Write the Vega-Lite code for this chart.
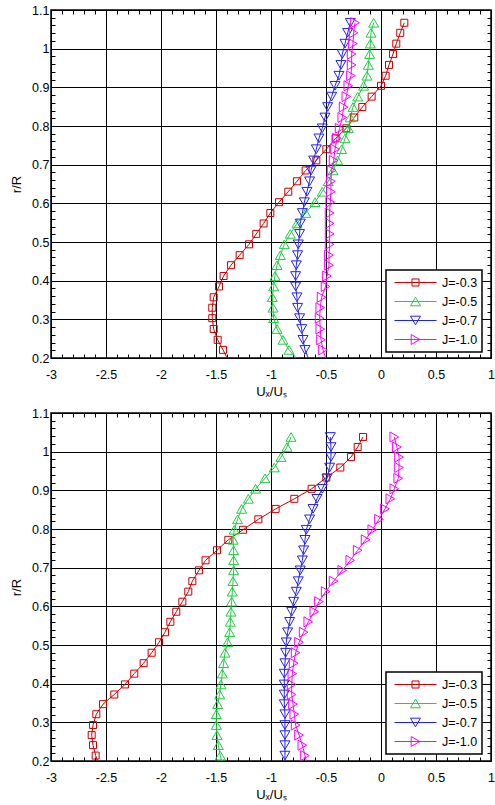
{
  "$schema": "https://vega.github.io/schema/vega-lite/v6.json",
  "background": "white",
  "padding": {"left": 9, "top": 3, "right": 0, "bottom": 2},
  "spacing": 6,
  "config": {
    "font": "Liberation Sans",
    "view": {"stroke": "black", "strokeWidth": 1.5},
    "axis": {
      "domain": false,
      "labelFont": "Liberation Sans",
      "labelFontSize": 12.5,
      "labelColor": "black",
      "titleFont": "Liberation Sans",
      "titleFontSize": 13,
      "titleFontWeight": "normal",
      "titleColor": "black",
      "tickColor": "black",
      "tickSize": -4,
      "tickWidth": 1,
      "gridColor": "black",
      "gridWidth": 1,
      "labelOverlap": false,
      "labelFlush": false,
      "labelBound": false
    },
    "legend": {
      "labelFont": "Liberation Sans",
      "labelFontSize": 12.5,
      "labelColor": "black",
      "symbolSize": 1764,
      "symbolStrokeWidth": 1,
      "symbolOpacity": 1,
      "clipHeight": 17,
      "rowPadding": 2,
      "padding": 4,
      "symbolOffset": 4,
      "labelOffset": 5,
      "strokeColor": "black",
      "strokeWidth": 1.5,
      "fillColor": "white",
      "cornerRadius": 0
    }
  },
  "datasets": {
    "top": [
      {"J":"J=-0.3","u":0.212,"r":1.067},{"J":"J=-0.3","u":0.175,"r":1.041},{"J":"J=-0.3","u":0.139,"r":1.013},{"J":"J=-0.3","u":0.109,"r":0.986},{"J":"J=-0.3","u":0.073,"r":0.958},{"J":"J=-0.3","u":0.042,"r":0.930},{"J":"J=-0.3","u":0.0,"r":0.904},{"J":"J=-0.3","u":-0.085,"r":0.876},{"J":"J=-0.3","u":-0.170,"r":0.849},{"J":"J=-0.3","u":-0.243,"r":0.822},{"J":"J=-0.3","u":-0.315,"r":0.794},{"J":"J=-0.3","u":-0.413,"r":0.768},{"J":"J=-0.3","u":-0.497,"r":0.740},{"J":"J=-0.3","u":-0.588,"r":0.711},{"J":"J=-0.3","u":-0.685,"r":0.685},{"J":"J=-0.3","u":-0.764,"r":0.657},{"J":"J=-0.3","u":-0.843,"r":0.630},{"J":"J=-0.3","u":-0.927,"r":0.603},{"J":"J=-0.3","u":-1.006,"r":0.575},{"J":"J=-0.3","u":-1.067,"r":0.548},{"J":"J=-0.3","u":-1.134,"r":0.521},{"J":"J=-0.3","u":-1.200,"r":0.494},{"J":"J=-0.3","u":-1.285,"r":0.466},{"J":"J=-0.3","u":-1.364,"r":0.440},{"J":"J=-0.3","u":-1.431,"r":0.412},{"J":"J=-0.3","u":-1.473,"r":0.385},{"J":"J=-0.3","u":-1.521,"r":0.357},{"J":"J=-0.3","u":-1.534,"r":0.330},{"J":"J=-0.3","u":-1.534,"r":0.303},{"J":"J=-0.3","u":-1.521,"r":0.275},{"J":"J=-0.3","u":-1.485,"r":0.247},{"J":"J=-0.3","u":-1.436,"r":0.221},{"J":"J=-0.3","u":-1.400,"r":0.2},
      {"J":"J=-0.5","u":-0.067,"r":1.067},{"J":"J=-0.5","u":-0.091,"r":1.041},{"J":"J=-0.5","u":-0.097,"r":1.013},{"J":"J=-0.5","u":-0.103,"r":0.986},{"J":"J=-0.5","u":-0.115,"r":0.958},{"J":"J=-0.5","u":-0.127,"r":0.930},{"J":"J=-0.5","u":-0.158,"r":0.904},{"J":"J=-0.5","u":-0.212,"r":0.876},{"J":"J=-0.5","u":-0.255,"r":0.849},{"J":"J=-0.5","u":-0.279,"r":0.822},{"J":"J=-0.5","u":-0.297,"r":0.794},{"J":"J=-0.5","u":-0.327,"r":0.768},{"J":"J=-0.5","u":-0.358,"r":0.740},{"J":"J=-0.5","u":-0.394,"r":0.711},{"J":"J=-0.5","u":-0.436,"r":0.685},{"J":"J=-0.5","u":-0.479,"r":0.657},{"J":"J=-0.5","u":-0.534,"r":0.630},{"J":"J=-0.5","u":-0.600,"r":0.603},{"J":"J=-0.5","u":-0.685,"r":0.575},{"J":"J=-0.5","u":-0.764,"r":0.548},{"J":"J=-0.5","u":-0.825,"r":0.521},{"J":"J=-0.5","u":-0.879,"r":0.494},{"J":"J=-0.5","u":-0.915,"r":0.466},{"J":"J=-0.5","u":-0.945,"r":0.440},{"J":"J=-0.5","u":-0.964,"r":0.412},{"J":"J=-0.5","u":-0.976,"r":0.385},{"J":"J=-0.5","u":-0.988,"r":0.357},{"J":"J=-0.5","u":-0.982,"r":0.330},{"J":"J=-0.5","u":-0.976,"r":0.303},{"J":"J=-0.5","u":-0.945,"r":0.275},{"J":"J=-0.5","u":-0.891,"r":0.247},{"J":"J=-0.5","u":-0.836,"r":0.221},{"J":"J=-0.5","u":-0.770,"r":0.2},
      {"J":"J=-0.7","u":-0.279,"r":1.067},{"J":"J=-0.7","u":-0.303,"r":1.041},{"J":"J=-0.7","u":-0.327,"r":1.013},{"J":"J=-0.7","u":-0.352,"r":0.986},{"J":"J=-0.7","u":-0.364,"r":0.958},{"J":"J=-0.7","u":-0.382,"r":0.930},{"J":"J=-0.7","u":-0.418,"r":0.904},{"J":"J=-0.7","u":-0.449,"r":0.876},{"J":"J=-0.7","u":-0.485,"r":0.849},{"J":"J=-0.7","u":-0.509,"r":0.822},{"J":"J=-0.7","u":-0.534,"r":0.794},{"J":"J=-0.7","u":-0.564,"r":0.768},{"J":"J=-0.7","u":-0.588,"r":0.740},{"J":"J=-0.7","u":-0.612,"r":0.711},{"J":"J=-0.7","u":-0.636,"r":0.685},{"J":"J=-0.7","u":-0.649,"r":0.657},{"J":"J=-0.7","u":-0.673,"r":0.630},{"J":"J=-0.7","u":-0.697,"r":0.603},{"J":"J=-0.7","u":-0.715,"r":0.575},{"J":"J=-0.7","u":-0.734,"r":0.548},{"J":"J=-0.7","u":-0.740,"r":0.521},{"J":"J=-0.7","u":-0.752,"r":0.494},{"J":"J=-0.7","u":-0.758,"r":0.466},{"J":"J=-0.7","u":-0.770,"r":0.440},{"J":"J=-0.7","u":-0.776,"r":0.412},{"J":"J=-0.7","u":-0.776,"r":0.385},{"J":"J=-0.7","u":-0.764,"r":0.357},{"J":"J=-0.7","u":-0.758,"r":0.330},{"J":"J=-0.7","u":-0.740,"r":0.303},{"J":"J=-0.7","u":-0.721,"r":0.275},{"J":"J=-0.7","u":-0.709,"r":0.247},{"J":"J=-0.7","u":-0.691,"r":0.221},{"J":"J=-0.7","u":-0.661,"r":0.2},
      {"J":"J=-1.0","u":-0.236,"r":1.067},{"J":"J=-1.0","u":-0.249,"r":1.041},{"J":"J=-1.0","u":-0.255,"r":1.013},{"J":"J=-1.0","u":-0.267,"r":0.986},{"J":"J=-1.0","u":-0.267,"r":0.958},{"J":"J=-1.0","u":-0.273,"r":0.930},{"J":"J=-1.0","u":-0.297,"r":0.904},{"J":"J=-1.0","u":-0.315,"r":0.876},{"J":"J=-1.0","u":-0.340,"r":0.849},{"J":"J=-1.0","u":-0.352,"r":0.822},{"J":"J=-1.0","u":-0.376,"r":0.794},{"J":"J=-1.0","u":-0.400,"r":0.768},{"J":"J=-1.0","u":-0.418,"r":0.740},{"J":"J=-1.0","u":-0.431,"r":0.711},{"J":"J=-1.0","u":-0.449,"r":0.685},{"J":"J=-1.0","u":-0.455,"r":0.657},{"J":"J=-1.0","u":-0.455,"r":0.630},{"J":"J=-1.0","u":-0.461,"r":0.603},{"J":"J=-1.0","u":-0.467,"r":0.575},{"J":"J=-1.0","u":-0.467,"r":0.548},{"J":"J=-1.0","u":-0.467,"r":0.521},{"J":"J=-1.0","u":-0.467,"r":0.494},{"J":"J=-1.0","u":-0.473,"r":0.466},{"J":"J=-1.0","u":-0.473,"r":0.440},{"J":"J=-1.0","u":-0.491,"r":0.412},{"J":"J=-1.0","u":-0.504,"r":0.385},{"J":"J=-1.0","u":-0.540,"r":0.357},{"J":"J=-1.0","u":-0.552,"r":0.330},{"J":"J=-1.0","u":-0.558,"r":0.303},{"J":"J=-1.0","u":-0.552,"r":0.275},{"J":"J=-1.0","u":-0.545,"r":0.247},{"J":"J=-1.0","u":-0.527,"r":0.221},{"J":"J=-1.0","u":-0.503,"r":0.2}
    ],
    "bottom": [
      {"J":"J=-0.3","u":-0.164,"r":1.038},{"J":"J=-0.3","u":-0.212,"r":1.012},{"J":"J=-0.3","u":-0.273,"r":0.986},{"J":"J=-0.3","u":-0.370,"r":0.959},{"J":"J=-0.3","u":-0.497,"r":0.933},{"J":"J=-0.3","u":-0.631,"r":0.904},{"J":"J=-0.3","u":-0.788,"r":0.878},{"J":"J=-0.3","u":-0.958,"r":0.852},{"J":"J=-0.3","u":-1.115,"r":0.825},{"J":"J=-0.3","u":-1.255,"r":0.798},{"J":"J=-0.3","u":-1.388,"r":0.772},{"J":"J=-0.3","u":-1.491,"r":0.745},{"J":"J=-0.3","u":-1.595,"r":0.719},{"J":"J=-0.3","u":-1.655,"r":0.693},{"J":"J=-0.3","u":-1.715,"r":0.665},{"J":"J=-0.3","u":-1.752,"r":0.638},{"J":"J=-0.3","u":-1.806,"r":0.612},{"J":"J=-0.3","u":-1.861,"r":0.586},{"J":"J=-0.3","u":-1.915,"r":0.560},{"J":"J=-0.3","u":-1.964,"r":0.533},{"J":"J=-0.3","u":-2.018,"r":0.507},{"J":"J=-0.3","u":-2.085,"r":0.480},{"J":"J=-0.3","u":-2.158,"r":0.453},{"J":"J=-0.3","u":-2.243,"r":0.426},{"J":"J=-0.3","u":-2.327,"r":0.398},{"J":"J=-0.3","u":-2.425,"r":0.372},{"J":"J=-0.3","u":-2.527,"r":0.347},{"J":"J=-0.3","u":-2.588,"r":0.321},{"J":"J=-0.3","u":-2.618,"r":0.293},{"J":"J=-0.3","u":-2.630,"r":0.267},{"J":"J=-0.3","u":-2.618,"r":0.241},{"J":"J=-0.3","u":-2.594,"r":0.214},{"J":"J=-0.3","u":-2.576,"r":0.2},
      {"J":"J=-0.5","u":-0.818,"r":1.038},{"J":"J=-0.5","u":-0.855,"r":1.012},{"J":"J=-0.5","u":-0.909,"r":0.986},{"J":"J=-0.5","u":-0.970,"r":0.959},{"J":"J=-0.5","u":-1.055,"r":0.931},{"J":"J=-0.5","u":-1.140,"r":0.904},{"J":"J=-0.5","u":-1.206,"r":0.878},{"J":"J=-0.5","u":-1.267,"r":0.852},{"J":"J=-0.5","u":-1.304,"r":0.825},{"J":"J=-0.5","u":-1.334,"r":0.798},{"J":"J=-0.5","u":-1.345,"r":0.772},{"J":"J=-0.5","u":-1.340,"r":0.745},{"J":"J=-0.5","u":-1.340,"r":0.719},{"J":"J=-0.5","u":-1.340,"r":0.693},{"J":"J=-0.5","u":-1.345,"r":0.665},{"J":"J=-0.5","u":-1.352,"r":0.638},{"J":"J=-0.5","u":-1.358,"r":0.612},{"J":"J=-0.5","u":-1.364,"r":0.586},{"J":"J=-0.5","u":-1.370,"r":0.560},{"J":"J=-0.5","u":-1.376,"r":0.533},{"J":"J=-0.5","u":-1.395,"r":0.507},{"J":"J=-0.5","u":-1.418,"r":0.480},{"J":"J=-0.5","u":-1.431,"r":0.453},{"J":"J=-0.5","u":-1.443,"r":0.426},{"J":"J=-0.5","u":-1.455,"r":0.398},{"J":"J=-0.5","u":-1.467,"r":0.372},{"J":"J=-0.5","u":-1.485,"r":0.347},{"J":"J=-0.5","u":-1.497,"r":0.321},{"J":"J=-0.5","u":-1.497,"r":0.293},{"J":"J=-0.5","u":-1.491,"r":0.267},{"J":"J=-0.5","u":-1.479,"r":0.241},{"J":"J=-0.5","u":-1.461,"r":0.214},{"J":"J=-0.5","u":-1.450,"r":0.2},
      {"J":"J=-0.7","u":-0.461,"r":1.038},{"J":"J=-0.7","u":-0.455,"r":1.012},{"J":"J=-0.7","u":-0.455,"r":0.986},{"J":"J=-0.7","u":-0.467,"r":0.959},{"J":"J=-0.7","u":-0.491,"r":0.931},{"J":"J=-0.7","u":-0.534,"r":0.904},{"J":"J=-0.7","u":-0.582,"r":0.878},{"J":"J=-0.7","u":-0.618,"r":0.852},{"J":"J=-0.7","u":-0.649,"r":0.825},{"J":"J=-0.7","u":-0.679,"r":0.798},{"J":"J=-0.7","u":-0.691,"r":0.772},{"J":"J=-0.7","u":-0.703,"r":0.745},{"J":"J=-0.7","u":-0.715,"r":0.719},{"J":"J=-0.7","u":-0.734,"r":0.693},{"J":"J=-0.7","u":-0.752,"r":0.665},{"J":"J=-0.7","u":-0.770,"r":0.638},{"J":"J=-0.7","u":-0.794,"r":0.612},{"J":"J=-0.7","u":-0.812,"r":0.586},{"J":"J=-0.7","u":-0.830,"r":0.560},{"J":"J=-0.7","u":-0.849,"r":0.533},{"J":"J=-0.7","u":-0.861,"r":0.507},{"J":"J=-0.7","u":-0.867,"r":0.480},{"J":"J=-0.7","u":-0.873,"r":0.453},{"J":"J=-0.7","u":-0.879,"r":0.426},{"J":"J=-0.7","u":-0.879,"r":0.398},{"J":"J=-0.7","u":-0.879,"r":0.372},{"J":"J=-0.7","u":-0.879,"r":0.347},{"J":"J=-0.7","u":-0.873,"r":0.321},{"J":"J=-0.7","u":-0.873,"r":0.293},{"J":"J=-0.7","u":-0.873,"r":0.267},{"J":"J=-0.7","u":-0.873,"r":0.241},{"J":"J=-0.7","u":-0.873,"r":0.214},{"J":"J=-0.7","u":-0.873,"r":0.2},
      {"J":"J=-1.0","u":0.121,"r":1.038},{"J":"J=-1.0","u":0.145,"r":1.012},{"J":"J=-1.0","u":0.164,"r":0.986},{"J":"J=-1.0","u":0.164,"r":0.959},{"J":"J=-1.0","u":0.157,"r":0.931},{"J":"J=-1.0","u":0.121,"r":0.904},{"J":"J=-1.0","u":0.085,"r":0.878},{"J":"J=-1.0","u":0.036,"r":0.852},{"J":"J=-1.0","u":-0.018,"r":0.825},{"J":"J=-1.0","u":-0.079,"r":0.798},{"J":"J=-1.0","u":-0.140,"r":0.772},{"J":"J=-1.0","u":-0.212,"r":0.745},{"J":"J=-1.0","u":-0.279,"r":0.719},{"J":"J=-1.0","u":-0.352,"r":0.693},{"J":"J=-1.0","u":-0.431,"r":0.665},{"J":"J=-1.0","u":-0.503,"r":0.638},{"J":"J=-1.0","u":-0.564,"r":0.612},{"J":"J=-1.0","u":-0.606,"r":0.586},{"J":"J=-1.0","u":-0.661,"r":0.560},{"J":"J=-1.0","u":-0.703,"r":0.533},{"J":"J=-1.0","u":-0.745,"r":0.507},{"J":"J=-1.0","u":-0.776,"r":0.480},{"J":"J=-1.0","u":-0.794,"r":0.453},{"J":"J=-1.0","u":-0.806,"r":0.426},{"J":"J=-1.0","u":-0.812,"r":0.398},{"J":"J=-1.0","u":-0.812,"r":0.372},{"J":"J=-1.0","u":-0.800,"r":0.347},{"J":"J=-1.0","u":-0.788,"r":0.321},{"J":"J=-1.0","u":-0.776,"r":0.293},{"J":"J=-1.0","u":-0.745,"r":0.267},{"J":"J=-1.0","u":-0.715,"r":0.241},{"J":"J=-1.0","u":-0.691,"r":0.214},{"J":"J=-1.0","u":-0.680,"r":0.2}
    ]
  },
  "resolve": {
    "scale": {"color": "independent", "shape": "independent"},
    "legend": {"color": "independent", "shape": "independent"}
  },
  "vconcat": [
    {
      "width": 440,
      "height": 348,
      "data": {"name": "top"},
      "resolve": {"axis": {"x": "independent", "y": "independent"}, "scale": {"shape": "independent", "color": "independent"}},
      "layer": [
        {
          "mark": {"type": "line", "strokeWidth": 1},
          "encoding": {
            "x": {"field": "u", "type": "quantitative", "scale": {"domain": [-3, 1], "nice": false, "zero": false},
              "axis": {"orient": "bottom", "title": "Uₓ/Uₛ", "titlePadding": 5, "labelPadding": 14, "grid": true,
                "values": [-3,-2.9,-2.8,-2.7,-2.6,-2.5,-2.4,-2.3,-2.2,-2.1,-2,-1.9,-1.8,-1.7,-1.6,-1.5,-1.4,-1.3,-1.2,-1.1,-1,-0.9,-0.8,-0.7,-0.6,-0.5,-0.4,-0.3,-0.2,-0.1,0,0.1,0.2,0.3,0.4,0.5,0.6,0.7,0.8,0.9,1],
                "labelExpr": "abs(datum.value*2 - round(datum.value*2)) < 0.000001 ? (datum.value < 0 ? '-' : '') + format(abs(datum.value), '.1~f') : ''",
                "gridOpacity": {"condition": {"test": "abs(datum.value*2 - round(datum.value*2)) > 0.000001", "value": 0}, "value": 1}}},
            "y": {"field": "r", "type": "quantitative", "scale": {"domain": [0.2, 1.1], "nice": false, "zero": false},
              "axis": {"orient": "left", "title": "r/R", "titlePadding": 8, "labelPadding": 6, "grid": true,
                "values": [0.2,0.22,0.24,0.26,0.28,0.3,0.32,0.34,0.36,0.38,0.4,0.42,0.44,0.46,0.48,0.5,0.52,0.54,0.56,0.58,0.6,0.62,0.64,0.66,0.68,0.7,0.72,0.74,0.76,0.78,0.8,0.82,0.84,0.86,0.88,0.9,0.92,0.94,0.96,0.98,1,1.02,1.04,1.06,1.08,1.1],
                "labelExpr": "abs(datum.value*10 - round(datum.value*10)) < 0.000001 ? format(datum.value, '.1~f') : ''",
                "gridOpacity": {"condition": {"test": "abs(datum.value*10 - round(datum.value*10)) > 0.000001", "value": 0}, "value": 1}}},
            "color": {"field": "J", "type": "nominal",
              "scale": {"domain": ["J=-0.3","J=-0.5","J=-0.7","J=-1.0"], "range": ["#cc0000","#22cc44","#2222ee","#ff00ff"]},
              "legend": null},
            "order": {"field": "r", "type": "quantitative"}
          }
        },
        {
          "transform": [{"filter": "datum.r > 0.205"}],
          "mark": {"type": "point", "filled": false, "strokeWidth": 1, "opacity": 1, "size": 100},
          "encoding": {
            "x": {"field": "u", "type": "quantitative",
              "axis": {"orient": "top", "title": null, "labels": false, "grid": false,
                "values": [-2.9,-2.8,-2.7,-2.6,-2.4,-2.3,-2.2,-2.1,-1.9,-1.8,-1.7,-1.6,-1.4,-1.3,-1.2,-1.1,-0.9,-0.8,-0.7,-0.6,-0.4,-0.3,-0.2,-0.1,0.1,0.2,0.3,0.4,0.6,0.7,0.8,0.9]}},
            "y": {"field": "r", "type": "quantitative",
              "axis": {"orient": "right", "title": null, "labels": false, "grid": false,
                "values": [0.22,0.24,0.26,0.28,0.32,0.34,0.36,0.38,0.42,0.44,0.46,0.48,0.52,0.54,0.56,0.58,0.62,0.64,0.66,0.68,0.72,0.74,0.76,0.78,0.82,0.84,0.86,0.88,0.92,0.94,0.96,0.98,1.02,1.04,1.06,1.08]}},
            "color": {"field": "J", "type": "nominal",
              "scale": {"domain": ["J=-0.3","J=-0.5","J=-0.7","J=-1.0"], "range": ["#cc0000","#22cc44","#2222ee","#ff00ff"]},
              "legend": null},
            "shape": {"field": "J", "type": "nominal",
              "scale": {"domain": ["J=-0.3","J=-0.5","J=-0.7","J=-1.0"], "range": ["M-0.7,-0.7H0.7V0.7H-0.7Z","triangle-up","triangle-down","triangle-right"]},
              "legend": null}
          }
        },
        {
          "transform": [{"filter": "datum.r > 5"}],
          "mark": {"type": "point", "filled": false, "strokeWidth": 1},
          "encoding": {
            "color": {"field": "J", "type": "nominal",
              "scale": {"domain": ["J=-0.3","J=-0.5","J=-0.7","J=-1.0"], "range": ["#cc0000","#22cc44","#2222ee","#ff00ff"]},
              "legend": {"title": null, "orient": "none", "legendX": 335, "legendY": 260}},
            "shape": {"field": "J", "type": "nominal",
              "scale": {"domain": ["J=-0.3","J=-0.5","J=-0.7","J=-1.0"], "range": ["M-1,0H1M-0.167,-0.167H0.167V0.167H-0.167Z","M-1,0H1M0,-0.206L0.238,0.206L-0.238,0.206Z","M-1,0H1M0,0.206L0.238,-0.206L-0.238,-0.206Z","M-1,0H1M0.206,0L-0.206,-0.238L-0.206,0.238Z"]},
              "legend": {"title": null, "orient": "none", "legendX": 335, "legendY": 260}}
          }
        }
      ]
    },
    {
      "width": 440,
      "height": 348,
      "data": {"name": "bottom"},
      "resolve": {"axis": {"x": "independent", "y": "independent"}, "scale": {"shape": "independent", "color": "independent"}},
      "layer": [
        {
          "mark": {"type": "line", "strokeWidth": 1},
          "encoding": {
            "x": {"field": "u", "type": "quantitative", "scale": {"domain": [-3, 1], "nice": false, "zero": false},
              "axis": {"orient": "bottom", "title": "Uₓ/Uₛ", "titlePadding": 5, "labelPadding": 14, "grid": true,
                "values": [-3,-2.9,-2.8,-2.7,-2.6,-2.5,-2.4,-2.3,-2.2,-2.1,-2,-1.9,-1.8,-1.7,-1.6,-1.5,-1.4,-1.3,-1.2,-1.1,-1,-0.9,-0.8,-0.7,-0.6,-0.5,-0.4,-0.3,-0.2,-0.1,0,0.1,0.2,0.3,0.4,0.5,0.6,0.7,0.8,0.9,1],
                "labelExpr": "abs(datum.value*2 - round(datum.value*2)) < 0.000001 ? (datum.value < 0 ? '-' : '') + format(abs(datum.value), '.1~f') : ''",
                "gridOpacity": {"condition": {"test": "abs(datum.value*2 - round(datum.value*2)) > 0.000001", "value": 0}, "value": 1}}},
            "y": {"field": "r", "type": "quantitative", "scale": {"domain": [0.2, 1.1], "nice": false, "zero": false},
              "axis": {"orient": "left", "title": "r/R", "titlePadding": 8, "labelPadding": 6, "grid": true,
                "values": [0.2,0.22,0.24,0.26,0.28,0.3,0.32,0.34,0.36,0.38,0.4,0.42,0.44,0.46,0.48,0.5,0.52,0.54,0.56,0.58,0.6,0.62,0.64,0.66,0.68,0.7,0.72,0.74,0.76,0.78,0.8,0.82,0.84,0.86,0.88,0.9,0.92,0.94,0.96,0.98,1,1.02,1.04,1.06,1.08,1.1],
                "labelExpr": "abs(datum.value*10 - round(datum.value*10)) < 0.000001 ? format(datum.value, '.1~f') : ''",
                "gridOpacity": {"condition": {"test": "abs(datum.value*10 - round(datum.value*10)) > 0.000001", "value": 0}, "value": 1}}},
            "color": {"field": "J", "type": "nominal",
              "scale": {"domain": ["J=-0.3","J=-0.5","J=-0.7","J=-1.0"], "range": ["#cc0000","#22cc44","#2222ee","#ff00ff"]},
              "legend": null},
            "order": {"field": "r", "type": "quantitative"}
          }
        },
        {
          "transform": [{"filter": "datum.r > 0.205"}],
          "mark": {"type": "point", "filled": false, "strokeWidth": 1, "opacity": 1, "size": 100},
          "encoding": {
            "x": {"field": "u", "type": "quantitative",
              "axis": {"orient": "top", "title": null, "labels": false, "grid": false,
                "values": [-2.9,-2.8,-2.7,-2.6,-2.4,-2.3,-2.2,-2.1,-1.9,-1.8,-1.7,-1.6,-1.4,-1.3,-1.2,-1.1,-0.9,-0.8,-0.7,-0.6,-0.4,-0.3,-0.2,-0.1,0.1,0.2,0.3,0.4,0.6,0.7,0.8,0.9]}},
            "y": {"field": "r", "type": "quantitative",
              "axis": {"orient": "right", "title": null, "labels": false, "grid": false,
                "values": [0.22,0.24,0.26,0.28,0.32,0.34,0.36,0.38,0.42,0.44,0.46,0.48,0.52,0.54,0.56,0.58,0.62,0.64,0.66,0.68,0.72,0.74,0.76,0.78,0.82,0.84,0.86,0.88,0.92,0.94,0.96,0.98,1.02,1.04,1.06,1.08]}},
            "color": {"field": "J", "type": "nominal",
              "scale": {"domain": ["J=-0.3","J=-0.5","J=-0.7","J=-1.0"], "range": ["#cc0000","#22cc44","#2222ee","#ff00ff"]},
              "legend": null},
            "shape": {"field": "J", "type": "nominal",
              "scale": {"domain": ["J=-0.3","J=-0.5","J=-0.7","J=-1.0"], "range": ["M-0.7,-0.7H0.7V0.7H-0.7Z","triangle-up","triangle-down","triangle-right"]},
              "legend": null}
          }
        },
        {
          "transform": [{"filter": "datum.r > 5"}],
          "mark": {"type": "point", "filled": false, "strokeWidth": 1},
          "encoding": {
            "color": {"field": "J", "type": "nominal",
              "scale": {"domain": ["J=-0.3","J=-0.5","J=-0.7","J=-1.0"], "range": ["#cc0000","#22cc44","#2222ee","#ff00ff"]},
              "legend": {"title": null, "orient": "none", "legendX": 335, "legendY": 259}},
            "shape": {"field": "J", "type": "nominal",
              "scale": {"domain": ["J=-0.3","J=-0.5","J=-0.7","J=-1.0"], "range": ["M-1,0H1M-0.167,-0.167H0.167V0.167H-0.167Z","M-1,0H1M0,-0.206L0.238,0.206L-0.238,0.206Z","M-1,0H1M0,0.206L0.238,-0.206L-0.238,-0.206Z","M-1,0H1M0.206,0L-0.206,-0.238L-0.206,0.238Z"]},
              "legend": {"title": null, "orient": "none", "legendX": 335, "legendY": 259}}
          }
        }
      ]
    }
  ]
}
